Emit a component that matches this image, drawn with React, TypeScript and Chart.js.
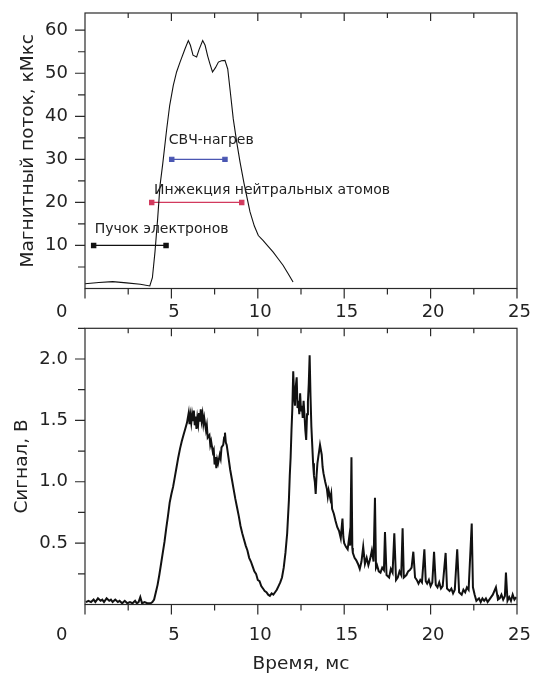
import { useEffect, useRef } from 'react';
import { Chart, registerables } from 'chart.js';

Chart.register(...registerables);

// ---------- data ----------
const fluxTime = [0, 0.8, 1.6, 2.4, 3.2, 3.75, 3.9, 4.05, 4.2, 4.34, 4.5, 4.73, 4.9, 5.11, 5.3, 5.5, 5.79, 5.98, 6.1, 6.25, 6.46, 6.6, 6.81, 6.95, 7.1, 7.23, 7.38, 7.55, 7.72, 7.9, 8.1, 8.26, 8.4, 8.58, 8.78, 8.97, 9.2, 9.55, 9.8, 10.03, 10.3, 10.6, 10.88, 11.2, 11.46, 11.75, 12.04];
const fluxValue = [1.1, 1.4, 1.6, 1.3, 1.0, 0.6, 2.5, 8.5, 16, 23.9, 29, 37.1, 42.5, 47.2, 50.3, 52.6, 55.7, 57.6, 56.5, 54.2, 53.8, 55.5, 57.6, 56.5, 54, 52.2, 50.3, 51.3, 52.6, 52.9, 53, 51, 46, 39.4, 34, 29.4, 24.5, 17.8, 14.5, 12.3, 11.2, 9.8, 8.5, 6.8, 5.4, 3.5, 1.5];

const signalTime = [
  0.05, 0.2, 0.35, 0.5, 0.6, 0.75, 0.9, 1.0, 1.1, 1.25,
  1.4, 1.5, 1.6, 1.75, 1.9, 2.0, 2.15, 2.3, 2.45, 2.6,
  2.75, 2.9, 3.0, 3.1, 3.2, 3.3, 3.45, 3.6, 3.8, 3.9,
  4.0, 4.1, 4.2, 4.3, 4.4, 4.5, 4.6, 4.7, 4.8, 4.9,
  5.0, 5.1, 5.2, 5.3, 5.4, 5.5, 5.6, 5.7, 5.8, 5.9,
  6.0, 6.05, 6.1, 6.15, 6.2, 6.25, 6.3, 6.35, 6.4, 6.45,
  6.5, 6.55, 6.6, 6.65, 6.7, 6.75, 6.8, 6.85, 6.9, 7.0,
  7.05, 7.1, 7.2, 7.25, 7.3, 7.4, 7.45, 7.5, 7.55, 7.6,
  7.65, 7.7, 7.8, 7.85, 7.9, 8.0, 8.05, 8.1, 8.15, 8.2,
  8.3, 8.4, 8.5, 8.6, 8.7, 8.8, 8.9, 9.0, 9.1, 9.2,
  9.3, 9.4, 9.5, 9.6, 9.7, 9.8, 9.9, 10.0, 10.1, 10.2,
  10.3, 10.4, 10.5, 10.6, 10.7, 10.8, 10.9, 11.0, 11.1, 11.2,
  11.3, 11.4, 11.5, 11.6, 11.7, 11.8, 11.85, 11.9, 11.95, 12.0,
  12.05, 12.1, 12.15, 12.2, 12.25, 12.3, 12.35, 12.4, 12.45, 12.5,
  12.55, 12.6, 12.65, 12.7, 12.75, 12.8, 12.85, 12.9, 12.95, 13.0,
  13.05, 13.1, 13.15, 13.2, 13.25, 13.3, 13.35, 13.4, 13.45, 13.5,
  13.55, 13.6, 13.7, 13.75, 13.8, 13.9, 14.0, 14.05, 14.1, 14.2,
  14.25, 14.3, 14.4, 14.5, 14.6, 14.7, 14.8, 14.9, 14.95, 15.0,
  15.1, 15.2, 15.3, 15.35, 15.42, 15.47, 15.5, 15.6, 15.7, 15.8,
  15.9, 16.0, 16.1, 16.2, 16.3, 16.4, 16.5, 16.6, 16.7, 16.78,
  16.84, 16.9, 17.0, 17.1, 17.2, 17.3, 17.36, 17.45, 17.6, 17.7,
  17.8, 17.9, 18.0, 18.1, 18.2, 18.3, 18.38, 18.45, 18.6, 18.7,
  18.8, 18.9, 19.0, 19.1, 19.2, 19.3, 19.4, 19.5, 19.64, 19.72,
  19.8, 19.9, 20.0, 20.1, 20.2, 20.3, 20.4, 20.5, 20.6, 20.7,
  20.87, 20.95, 21.1, 21.2, 21.3, 21.4, 21.54, 21.65, 21.8, 21.9,
  22.0, 22.1, 22.2, 22.38, 22.45, 22.55, 22.65, 22.8, 22.9, 23.0,
  23.1, 23.2, 23.3, 23.4, 23.5, 23.6, 23.78, 23.85, 23.9, 24.0,
  24.1, 24.2, 24.3, 24.36, 24.45, 24.55, 24.65, 24.75, 24.85, 24.95,
];
const signalValue = [
  0.02, 0.03, 0.02, 0.04, 0.02, 0.05, 0.03, 0.04, 0.02, 0.05,
  0.03, 0.04, 0.02, 0.04, 0.02, 0.03, 0.01, 0.03, 0.01, 0.02,
  0.01, 0.03, 0.01, 0.02, 0.06, 0.01, 0.02, 0.01, 0.01, 0.02,
  0.04, 0.1, 0.16, 0.24, 0.33, 0.42, 0.51, 0.62, 0.72, 0.83,
  0.9, 0.96, 1.04, 1.12, 1.2, 1.27, 1.33, 1.38, 1.43, 1.48,
  1.56, 1.47, 1.54, 1.48, 1.55, 1.5, 1.58, 1.46, 1.53, 1.43,
  1.52, 1.47, 1.56, 1.49, 1.59, 1.5, 1.55, 1.47, 1.52, 1.42,
  1.46, 1.36, 1.38, 1.3, 1.33, 1.24, 1.26, 1.14, 1.2, 1.11,
  1.18, 1.15, 1.22, 1.19, 1.28, 1.3, 1.36, 1.4, 1.32, 1.3,
  1.2, 1.1, 1.02, 0.94, 0.86, 0.79, 0.72, 0.64, 0.58, 0.53,
  0.48, 0.44, 0.38, 0.35, 0.31, 0.27, 0.25, 0.2, 0.19, 0.15,
  0.13, 0.11, 0.1, 0.08, 0.07, 0.09, 0.08, 0.1, 0.12, 0.15,
  0.18, 0.22, 0.3, 0.42, 0.58, 0.85, 1.05, 1.2, 1.42, 1.6,
  1.9, 1.7, 1.62, 1.78, 1.85, 1.6, 1.66, 1.55, 1.72, 1.58,
  1.62, 1.52, 1.66, 1.55, 1.42, 1.34, 1.55, 1.65, 1.8, 2.03,
  1.7, 1.45, 1.3, 1.15, 1.05, 1.0, 0.9, 1.05, 1.15, 1.2,
  1.25, 1.3, 1.22, 1.12, 1.07, 1.0, 0.94, 0.88, 0.93, 0.86,
  0.9, 0.78, 0.74, 0.68, 0.63, 0.6, 0.54, 0.7, 0.55, 0.5,
  0.47, 0.45, 0.56, 0.48, 1.2, 0.46, 0.42, 0.38, 0.36, 0.33,
  0.29, 0.35, 0.47, 0.33, 0.38, 0.32, 0.37, 0.44, 0.35, 0.87,
  0.3, 0.32, 0.27, 0.26, 0.3, 0.28, 0.59, 0.24, 0.22, 0.29,
  0.26, 0.58, 0.2, 0.22, 0.27, 0.24, 0.62, 0.22, 0.24, 0.27,
  0.28, 0.3, 0.43, 0.22, 0.2, 0.17, 0.2, 0.18, 0.45, 0.19,
  0.17, 0.2, 0.15, 0.18, 0.43, 0.16, 0.14, 0.18, 0.13, 0.15,
  0.42, 0.13, 0.11, 0.13, 0.09, 0.12, 0.45, 0.1, 0.08, 0.12,
  0.1, 0.14, 0.12, 0.66, 0.14, 0.08, 0.03, 0.05, 0.02, 0.05,
  0.03, 0.05, 0.02, 0.04, 0.06, 0.08, 0.14, 0.08, 0.04, 0.05,
  0.08, 0.04, 0.07, 0.26, 0.03, 0.06, 0.03, 0.08, 0.04, 0.06,
];

const barNames = ['Пучок электронов', 'Инжекция нейтральных атомов', 'СВЧ-нагрев'];
const barStart = [0.5, 3.86, 5.02];
const barEnd = [4.69, 9.07, 8.1];
const barLevel = [10, 20, 30];
const barLabelX = [0.56, 3.99, 4.85];
const barLabelY = [13.7, 22.8, 34.5];

const timeTicks = [0, 5, 10, 15, 20, 25];
const fluxTicks = [10, 20, 30, 40, 50, 60];
const signalTicks = [0.5, 1.0, 1.5, 2.0];

const timeTitle = 'Время, мс';
const fluxTitle = 'Магнитный поток, кМкс';
const signalTitle = 'Сигнал, В';

// ---------- styles ----------
const FONT = "'DejaVu Sans', sans-serif";
const TEXT = '#222';
const barColors = ['#111111', '#d23a5e', '#4a56b2'];

const framePlugin = {
  id: 'frameTicks',
  afterDraw(chart: any, _a: any, opts: any) {
    const { ctx, chartArea: a, scales } = chart;
    const x = scales.x;
    const y = scales.y;
    ctx.save();
    ctx.strokeStyle = '#2a2a2a';
    ctx.lineWidth = 1.2;
    ctx.strokeRect(a.left, a.top, a.right - a.left, a.bottom - a.top);
    ctx.beginPath();
    const nx = Math.round((x.max - x.min) / opts.xStep);
    for (let i = 0; i <= nx; i++) {
      const v = x.min + i * opts.xStep;
      const px = x.getPixelForValue(v);
      const major = Math.abs(v / opts.xMajor - Math.round(v / opts.xMajor)) < 1e-6;
      ctx.moveTo(px, a.bottom);
      ctx.lineTo(px, a.bottom + (major ? 10 : 6));
      if (i > 0 && i < nx) {
        ctx.moveTo(px, a.top);
        ctx.lineTo(px, a.top + (major ? 8 : 5));
      }
    }
    const ny = Math.floor((y.max - y.min) / opts.yStep + 1e-6);
    for (let i = 1; i <= ny; i++) {
      const v = y.min + i * opts.yStep;
      const py = y.getPixelForValue(v);
      const major = Math.abs(v / opts.yMajor - Math.round(v / opts.yMajor)) < 1e-6;
      ctx.moveTo(a.left, py);
      ctx.lineTo(a.left - (major ? 10 : 7), py);
    }
    ctx.stroke();
    ctx.restore();
  },
};

const barLabelPlugin = {
  id: 'barLabels',
  afterDatasetsDraw(chart: any, _a: any, opts: any) {
    if (!opts || !opts.show) return;
    const { ctx, scales } = chart;
    ctx.save();
    ctx.font = `14px ${FONT}`;
    ctx.fillStyle = TEXT;
    ctx.textAlign = 'left';
    ctx.textBaseline = 'middle';
    barNames.forEach((name, i) => {
      ctx.fillText(name, scales.x.getPixelForValue(barLabelX[i]), scales.y.getPixelForValue(barLabelY[i]));
    });
    ctx.restore();
  },
};

function xTickCallback(v: any) {
  if (v === 0) return '0' + ' '.repeat(9);
  return String(v);
}

function fitX(h: number) {
  return (s: any) => {
    s.height = h;
    s.paddingLeft = 0;
    s.paddingRight = 0;
    s.paddingTop = 0;
    s.paddingBottom = 0;
  };
}
function fitY(s: any) {
  s.width = 85;
  s.paddingLeft = 0;
  s.paddingRight = 0;
  s.paddingTop = 0;
  s.paddingBottom = 0;
}

function makeTop(canvas: HTMLCanvasElement) {
  const datasets: any[] = [
    {
      data: fluxTime.map((t, i) => ({ x: t, y: fluxValue[i] })),
      borderColor: '#111',
      borderWidth: 1.1,
      pointRadius: 0,
      tension: 0,
    },
  ];
  barNames.forEach((_, i) => {
    datasets.push({
      data: [
        { x: barStart[i], y: barLevel[i] },
        { x: barEnd[i], y: barLevel[i] },
      ],
      borderColor: barColors[i],
      backgroundColor: barColors[i],
      borderWidth: 1.2,
      pointStyle: 'rect',
      pointRadius: 3,
      pointBackgroundColor: barColors[i],
      pointBorderColor: barColors[i],
      tension: 0,
    });
  });
  return new Chart(canvas, {
    type: 'line',
    data: { datasets },
    options: {
      responsive: false,
      animation: false,
      layout: { padding: { top: 13, right: 24, left: 0, bottom: 0 } },
      plugins: {
        legend: { display: false },
        tooltip: { enabled: false },
        frameTicks: { xStep: 2.5, xMajor: 5, yStep: 5, yMajor: 10 },
        barLabels: { show: true },
      } as any,
      scales: {
        x: {
          type: 'linear',
          min: 0,
          max: 25,
          grid: { display: false, drawTicks: false },
          border: { display: false },
          afterBuildTicks: (s: any) => { s.ticks = timeTicks.map((v) => ({ value: v })); },
          afterFit: fitX(41.5),
          ticks: {
            padding: 13,
            labelOffset: 2.5,
            maxRotation: 0,
            autoSkip: false,
            color: TEXT,
            font: { family: FONT, size: 18 },
            callback: xTickCallback,
          },
        },
        y: {
          type: 'linear',
          min: 0,
          max: 64,
          grid: { display: false, drawTicks: false },
          border: { display: false },
          afterBuildTicks: (s: any) => { s.ticks = fluxTicks.map((v) => ({ value: v })); },
          afterFit: fitY,
          ticks: {
            padding: 17,
            color: TEXT,
            font: { family: FONT, size: 18 },
            callback: (v: any) => String(v),
          },
          title: {
            display: true,
            text: fluxTitle,
            color: TEXT,
            font: { family: FONT, size: 18.5 },
            padding: { top: 17, bottom: 0 },
          },
        },
      },
    } as any,
    plugins: [framePlugin, barLabelPlugin],
  });
}

function makeBottom(canvas: HTMLCanvasElement) {
  return new Chart(canvas, {
    type: 'line',
    data: {
      datasets: [
        {
          data: signalTime.map((t, i) => ({ x: t, y: signalValue[i] })),
          borderColor: '#111',
          borderWidth: 2,
          pointRadius: 0,
          tension: 0,
        },
      ],
    },
    options: {
      responsive: false,
      animation: false,
      layout: { padding: { top: 8.3, right: 24, left: 0, bottom: 0 } },
      plugins: {
        legend: { display: false },
        tooltip: { enabled: false },
        frameTicks: { xStep: 2.5, xMajor: 5, yStep: 0.25, yMajor: 0.5 },
        barLabels: { show: false },
      } as any,
      scales: {
        x: {
          type: 'linear',
          min: 0,
          max: 25,
          grid: { display: false, drawTicks: false },
          border: { display: false },
          afterBuildTicks: (s: any) => { s.ticks = timeTicks.map((v) => ({ value: v })); },
          afterFit: fitX(75.5),
          ticks: {
            padding: 20,
            labelOffset: 2.5,
            maxRotation: 0,
            autoSkip: false,
            color: TEXT,
            font: { family: FONT, size: 18 },
            callback: xTickCallback,
          },
          title: {
            display: true,
            text: timeTitle,
            color: TEXT,
            font: { family: FONT, size: 18.5 },
            padding: { top: 0, bottom: 4.5 },
          },
        },
        y: {
          type: 'linear',
          min: 0,
          max: 2.25,
          grid: { display: false, drawTicks: false },
          border: { display: false },
          afterBuildTicks: (s: any) => { s.ticks = signalTicks.map((v) => ({ value: v })); },
          afterFit: fitY,
          ticks: {
            padding: 17,
            color: TEXT,
            font: { family: FONT, size: 18 },
            callback: (v: any) => Number(v).toFixed(1),
          },
          title: {
            display: true,
            text: signalTitle,
            color: TEXT,
            font: { family: FONT, size: 18.5 },
            padding: { top: 11, bottom: 0 },
          },
        },
      },
    } as any,
    plugins: [framePlugin, barLabelPlugin],
  });
}

export default function App() {
  const topRef = useRef<HTMLCanvasElement>(null);
  const botRef = useRef<HTMLCanvasElement>(null);

  useEffect(() => {
    const c1 = makeTop(topRef.current!);
    const c2 = makeBottom(botRef.current!);
    return () => {
      c1.destroy();
      c2.destroy();
    };
  }, []);

  return (
    <div style={{ position: 'absolute', left: 0, top: 0, width: 541, height: 680, background: '#fff' }}>
      <canvas ref={topRef} width={541} height={330} style={{ position: 'absolute', left: 0, top: 0, display: 'block' }} />
      <canvas ref={botRef} width={541} height={360} style={{ position: 'absolute', left: 0, top: 320, display: 'block' }} />
    </div>
  );
}
